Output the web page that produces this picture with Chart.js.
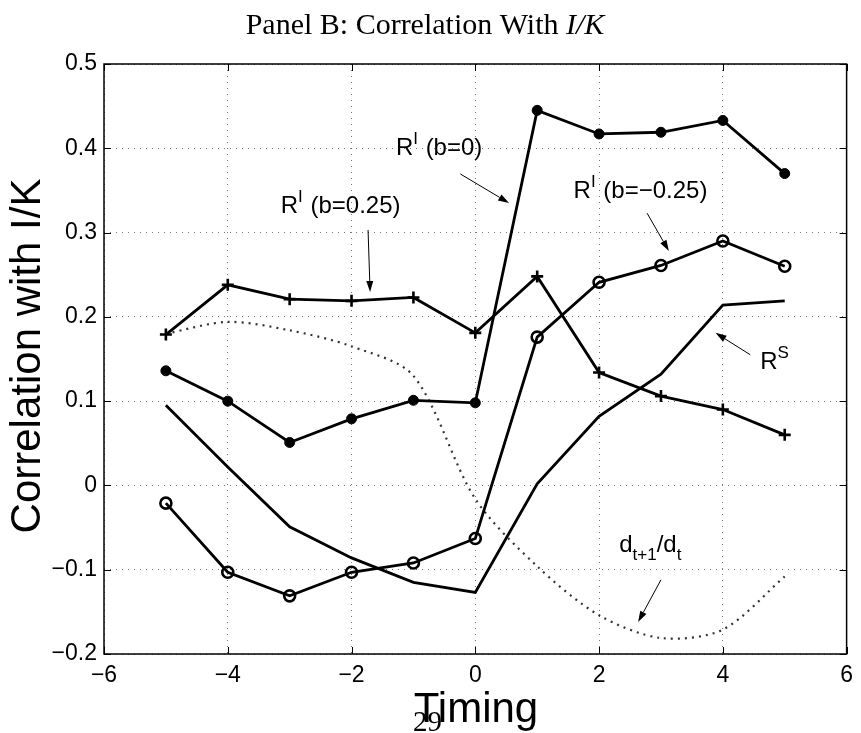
<!DOCTYPE html>
<html>
<head>
<meta charset="utf-8">
<script src="https://cdn.jsdelivr.net/npm/chart.js@4/dist/chart.umd.min.js"></script>
<style>
  html, body { margin: 0; padding: 0; background: #fff; }
  #wrap { width: 861px; height: 733px; position: relative; }
</style>
</head>
<body>
<div id="wrap"><canvas id="c" width="861" height="733"></canvas></div>
<script>
// ---- data ----
const timing = [-5, -4, -3, -2, -1, 0, 1, 2, 3, 4, 5];
const rIb0    = [0.136, 0.100, 0.051, 0.079, 0.101, 0.098, 0.445, 0.417, 0.419, 0.433, 0.370];
const rIb025  = [0.179, 0.238, 0.221, 0.219, 0.223, 0.181, 0.248, 0.134, 0.106, 0.090, 0.060];
const rIbm025 = [-0.021, -0.103, -0.131, -0.103, -0.092, -0.063, 0.176, 0.241, 0.261, 0.290, 0.260];
const rS      = [0.095, 0.022, -0.049, -0.086, -0.115, -0.127, 0.002, 0.082, 0.132, 0.214, 0.219];
const dRatio  = [0.180, 0.194, 0.184, 0.165, 0.130, -0.016, -0.096, -0.154, -0.181, -0.171, -0.108];

const xTickValues = [-6, -4, -2, 0, 2, 4, 6];
const xTickLabels = ['\u22126', '\u22124', '\u22122', '0', '2', '4', '6'];
const yTickValues = [-0.2, -0.1, 0, 0.1, 0.2, 0.3, 0.4, 0.5];
const yTickLabels = ['\u22120.2', '\u22120.1', '0', '0.1', '0.2', '0.3', '0.4', '0.5'];

const titleText = 'Panel B: Correlation With ';
const yTitle = 'Correlation with I/K';
const xTitle = 'Timing';
const pageNumber = '29';

// annotation labels (data coordinates) : parts [text, 0 normal / 1 sup / 2 sub]
const labelNotes = [
  { parts: [['R', 0], ['I', 1], [' (b=0)', 0]], x: -1.283, y: 0.392 },
  { parts: [['R', 0], ['I', 1], [' (b=0.25)', 0]], x: -3.144, y: 0.323 },
  { parts: [['R', 0], ['I', 1], [' (b=\u22120.25)', 0]], x: 1.588, y: 0.341 },
  { parts: [['R', 0], ['S', 1]], x: 4.604, y: 0.138 },
  { parts: [['d', 0], ['t+1', 2], ['/d', 0], ['t', 2]], x: 2.326, y: -0.079 }
];
const arrowNotes = [
  { from: [-0.241, 0.3695], to: [0.546, 0.335] },
  { from: [-1.733, 0.303], to: [-1.700, 0.2295] },
  { from: [2.776, 0.323], to: [3.128, 0.278] },
  { from: [4.444, 0.155], to: [3.882, 0.181] },
  { from: [3.000, -0.112], to: [2.631, -0.162] }
];

function pts(arr) { return timing.map((t, i) => ({ x: t, y: arr[i] })); }

const SANS = '"Liberation Sans", Arial, Helvetica, sans-serif';
const SERIF = '"Liberation Serif", "Times New Roman", serif';

const decor = {
  id: 'decor',
  afterDraw(chart) {
    const ctx = chart.ctx;
    const a = chart.chartArea;
    const xs = chart.scales.x, ys = chart.scales.y;
    ctx.save();
    // box
    ctx.strokeStyle = '#000';
    ctx.lineWidth = 1.5;
    ctx.setLineDash([]);
    ctx.strokeRect(a.left, a.top, a.right - a.left, a.bottom - a.top);
    // inside ticks
    ctx.lineWidth = 1;
    const tl = 7;
    xTickValues.forEach(v => {
      const px = Math.round(xs.getPixelForValue(v)) + 0.5;
      ctx.beginPath();
      ctx.moveTo(px, a.bottom); ctx.lineTo(px, a.bottom - tl);
      ctx.moveTo(px, a.top); ctx.lineTo(px, a.top + tl);
      ctx.stroke();
    });
    yTickValues.forEach(v => {
      const py = Math.round(ys.getPixelForValue(v)) + 0.5;
      ctx.beginPath();
      ctx.moveTo(a.left, py); ctx.lineTo(a.left + tl, py);
      ctx.moveTo(a.right, py); ctx.lineTo(a.right - tl, py);
      ctx.stroke();
    });

    // arrows
    ctx.fillStyle = '#000';
    arrowNotes.forEach(n => {
      const x1 = xs.getPixelForValue(n.from[0]), y1 = ys.getPixelForValue(n.from[1]);
      const x2 = xs.getPixelForValue(n.to[0]), y2 = ys.getPixelForValue(n.to[1]);
      const ang = Math.atan2(y2 - y1, x2 - x1);
      const L = 11, W = 3.5;
      const bx = x2 - L * Math.cos(ang), by = y2 - L * Math.sin(ang);
      ctx.lineWidth = 1;
      ctx.beginPath(); ctx.moveTo(x1, y1); ctx.lineTo(bx, by); ctx.stroke();
      ctx.beginPath();
      ctx.moveTo(x2, y2);
      ctx.lineTo(bx + W * Math.sin(ang), by - W * Math.cos(ang));
      ctx.lineTo(bx - W * Math.sin(ang), by + W * Math.cos(ang));
      ctx.closePath(); ctx.fill();
    });

    // labels
    ctx.textBaseline = 'alphabetic';
    ctx.textAlign = 'left';
    labelNotes.forEach(n => {
      let x = xs.getPixelForValue(n.x);
      const y = ys.getPixelForValue(n.y);
      n.parts.forEach(([t, k]) => {
        let fs = 24, dy = 0;
        if (k === 1) { fs = 17; dy = -11; }
        if (k === 2) { fs = 17; dy = 8; }
        ctx.font = fs + 'px ' + SANS;
        ctx.fillText(t, x, y + dy);
        x += ctx.measureText(t).width + (k === 1 ? 1 : 0);
      });
    });

    // title
    const tfs = 30;
    ctx.font = tfs + 'px ' + SERIF;
    const w1 = ctx.measureText(titleText).width;
    ctx.font = 'italic ' + tfs + 'px ' + SERIF;
    const w2 = ctx.measureText('I/K').width;
    let tx = 425 - (w1 + w2) / 2;
    ctx.font = tfs + 'px ' + SERIF;
    ctx.fillText(titleText, tx, 34);
    ctx.font = 'italic ' + tfs + 'px ' + SERIF;
    ctx.fillText('I/K', tx + w1, 34);

    // axis titles
    ctx.font = '42px ' + SANS;
    ctx.textAlign = 'center';
    ctx.fillText(xTitle, 476, 722);
    ctx.save();
    ctx.translate(40, 356);
    ctx.rotate(-Math.PI / 2);
    ctx.fillText(yTitle, 0, 0);
    ctx.restore();

    // page number
    ctx.font = '29px ' + SERIF;
    ctx.textAlign = 'left';
    ctx.fillText(pageNumber, 413, 731);
    ctx.restore();
  }
};

const solid = { borderColor: '#000', borderWidth: 2.8, fill: false, tension: 0 };

new Chart(document.getElementById('c'), {
  type: 'line',
  data: {
    datasets: [
      Object.assign({ label: 'R^I (b=0)', data: pts(rIb0), pointStyle: 'circle', pointRadius: 5,
        pointBackgroundColor: '#000', pointBorderColor: '#000', pointBorderWidth: 1 }, solid),
      Object.assign({ label: 'R^I (b=0.25)', data: pts(rIb025), pointStyle: 'cross', pointRadius: 6,
        pointBorderColor: '#000', pointBorderWidth: 2.6 }, solid),
      Object.assign({ label: 'R^I (b=-0.25)', data: pts(rIbm025), pointStyle: 'circle', pointRadius: 5.5,
        pointBackgroundColor: 'rgba(0,0,0,0)', pointBorderColor: '#000', pointBorderWidth: 2.6 }, solid),
      Object.assign({ label: 'R^S', data: pts(rS), pointRadius: 0 }, solid),
      { label: 'd_{t+1}/d_t', data: pts(dRatio), borderColor: '#333', borderWidth: 2.2,
        borderDash: [2, 5], pointRadius: 0, fill: false, tension: 0.3 }
    ]
  },
  options: {
    responsive: false,
    animation: false,
    devicePixelRatio: 1,
    layout: { padding: { top: 64, right: 9, left: 0, bottom: 0 } },
    plugins: { legend: { display: false }, title: { display: false }, tooltip: { enabled: false } },
    scales: {
      x: {
        type: 'linear', min: -6, max: 6,
        afterBuildTicks: s => { s.ticks = xTickValues.map(v => ({ value: v })); },
        afterFit: s => { s.height = 79; },
        ticks: { callback: (v, i) => xTickLabels[i], color: '#000', padding: 8,
          font: { family: SANS, size: 23 }, maxRotation: 0, autoSkip: false },
        grid: { color: '#777', lineWidth: 1, drawTicks: false },
        border: { display: false, dash: [1, 5] }
      },
      y: {
        type: 'linear', min: -0.2, max: 0.5,
        afterBuildTicks: s => { s.ticks = yTickValues.map(v => ({ value: v })); },
        afterFit: s => { s.width = 104; },
        ticks: { callback: (v, i) => yTickLabels[i], color: '#000', padding: 7,
          font: { family: SANS, size: 23 }, autoSkip: false },
        grid: { color: '#777', lineWidth: 1, drawTicks: false },
        border: { display: false, dash: [1, 5] }
      }
    }
  },
  plugins: [decor]
});
</script>
</body>
</html>
